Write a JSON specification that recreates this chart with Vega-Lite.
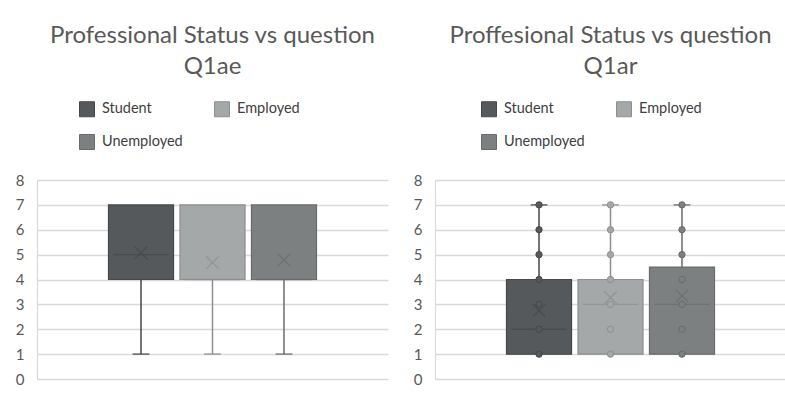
{
  "$schema": "https://vega.github.io/schema/vega-lite/v6.json",
  "background": "white",
  "padding": {"left": 15, "top": 24, "right": 0, "bottom": 0},
  "bounds": "flush",
  "spacing": 47,
  "config": {
    "font": "Lato",
    "view": {"stroke": null},
    "axis": {
      "domainColor": "#d9d9d9",
      "domainWidth": 1.2,
      "ticks": false,
      "gridColor": "#d9d9d9",
      "gridWidth": 1.3,
      "labelFont": "Lato",
      "labelFontSize": 15,
      "labelColor": "#595959",
      "labelPadding": 13,
      "title": null
    },
    "title": {
      "font": "Lato",
      "fontSize": 24,
      "fontWeight": "normal",
      "color": "#595959",
      "lineHeight": 31,
      "offset": 22
    },
    "legend": {
      "orient": "none",
      "direction": "horizontal",
      "title": null,
      "columns": 2,
      "padding": 0,
      "symbolType": "square",
      "symbolSize": 225,
      "symbolStrokeWidth": 1,
      "symbolOpacity": 1,
      "labelFont": "Lato",
      "labelFontSize": 14.5,
      "labelColor": "#404040",
      "labelOffset": 7,
      "columnPadding": 29,
      "rowPadding": 13
    }
  },
  "resolve": {
    "scale": {"fill": "independent", "stroke": "independent", "x": "independent", "y": "independent"},
    "legend": {"fill": "independent", "stroke": "independent"}
  },
  "hconcat": [
    {
      "width": 351,
      "height": 199,
      "title": {"text": ["Professional Status vs question", "Q1ae"]},
      "data": {"values": [
        {"status": "Student", "min": 1, "q1": 4, "median": 5, "q3": 7, "max": 7, "mean": 5.07},
        {"status": "Employed", "min": 1, "q1": 4, "median": 4, "q3": 7, "max": 7, "mean": 4.68},
        {"status": "Unemployed", "min": 1, "q1": 4, "median": 4, "q3": 7, "max": 7, "mean": 4.79}
      ]},
      "encoding": {
        "x": {"field": "status", "type": "nominal", "scale": {"domain": ["Student", "Employed", "Unemployed"], "paddingInner": 0.09, "paddingOuter": 1.5}, "axis": null}
      },
      "layer": [
        {
          "mark": {"type": "rule", "strokeWidth": 1.5},
          "encoding": {
            "y": {"field": "min", "type": "quantitative", "scale": {"domain": [0, 8]}, "axis": {"values": [0, 1, 2, 3, 4, 5, 6, 7, 8]}},
            "y2": {"field": "max"},
            "stroke": {"field": "status", "type": "nominal", "scale": {"domain": ["Student", "Employed", "Unemployed"], "range": ["#45484a", "#8c8f90", "#686b6c"]}}
          }
        },
        {
          "mark": {"type": "tick", "size": 15, "thickness": 0.01, "filled": false, "strokeWidth": 1.8},
          "encoding": {
            "y": {"field": "min", "type": "quantitative", "axis": {"values": [0, 1, 2, 3, 4, 5, 6, 7, 8]}},
            "stroke": {"field": "status", "type": "nominal"}
          }
        },
        {
          "mark": {"type": "bar", "strokeWidth": 1.2},
          "encoding": {
            "y": {"field": "q1", "type": "quantitative", "axis": {"values": [0, 1, 2, 3, 4, 5, 6, 7, 8]}},
            "y2": {"field": "q3"},
            "fill": {"field": "status", "type": "nominal", "scale": {"domain": ["Student", "Employed", "Unemployed"], "range": ["#55595b", "#a5a8a9", "#7d8081"]}, "legend": {"orient": "none", "legendX": 42, "legendY": -79}},
            "stroke": {"field": "status", "type": "nominal"}
          }
        },
        {
          "mark": {"type": "tick", "size": 54, "thickness": 0.01, "filled": false, "strokeWidth": 1.3},
          "encoding": {
            "y": {"field": "median", "type": "quantitative", "axis": {"values": [0, 1, 2, 3, 4, 5, 6, 7, 8]}},
            "stroke": {"field": "status", "type": "nominal"}
          }
        },
        {
          "mark": {"type": "point", "shape": "M-1,-1L1,1M-1,1L1,-1", "size": 160, "strokeWidth": 1.3, "filled": false},
          "encoding": {
            "y": {"field": "mean", "type": "quantitative", "axis": {"values": [0, 1, 2, 3, 4, 5, 6, 7, 8]}},
            "stroke": {"field": "status", "type": "nominal"}
          }
        }
      ]
    },
    {
      "width": 351,
      "height": 199,
      "title": {"text": ["Proffesional Status vs question", "Q1ar"]},
      "encoding": {
        "x": {"field": "status", "type": "nominal", "scale": {"domain": ["Student", "Employed", "Unemployed"], "paddingInner": 0.09, "paddingOuter": 1.5}, "axis": null}
      },
      "layer": [
        {
          "data": {"name": "box2", "values": [
            {"status": "Student", "min": 1, "q1": 1, "median": 2, "q3": 4, "max": 7, "mean": 2.76},
            {"status": "Employed", "min": 1, "q1": 1, "median": 3, "q3": 4, "max": 7, "mean": 3.27},
            {"status": "Unemployed", "min": 1, "q1": 1, "median": 3, "q3": 4.5, "max": 7, "mean": 3.34}
          ]},
          "mark": {"type": "rule", "strokeWidth": 1.5},
          "encoding": {
            "y": {"field": "min", "type": "quantitative", "scale": {"domain": [0, 8]}, "axis": {"values": [0, 1, 2, 3, 4, 5, 6, 7, 8]}},
            "y2": {"field": "max"},
            "stroke": {"field": "status", "type": "nominal", "scale": {"domain": ["Student", "Employed", "Unemployed"], "range": ["#45484a", "#8c8f90", "#686b6c"]}}
          }
        },
        {
          "data": {"name": "box2"},
          "mark": {"type": "tick", "size": 15, "thickness": 0.01, "filled": false, "strokeWidth": 1.8},
          "encoding": {
            "y": {"field": "max", "type": "quantitative", "axis": {"values": [0, 1, 2, 3, 4, 5, 6, 7, 8]}},
            "stroke": {"field": "status", "type": "nominal"}
          }
        },
        {
          "data": {"name": "box2"},
          "mark": {"type": "bar", "strokeWidth": 1.2},
          "encoding": {
            "y": {"field": "q1", "type": "quantitative", "axis": {"values": [0, 1, 2, 3, 4, 5, 6, 7, 8]}},
            "y2": {"field": "q3"},
            "fill": {"field": "status", "type": "nominal", "scale": {"domain": ["Student", "Employed", "Unemployed"], "range": ["#55595b", "#a5a8a9", "#7d8081"]}, "legend": {"orient": "none", "legendX": 46, "legendY": -79}},
            "stroke": {"field": "status", "type": "nominal"}
          }
        },
        {
          "data": {"name": "box2"},
          "mark": {"type": "tick", "size": 54, "thickness": 0.01, "filled": false, "strokeWidth": 1.3},
          "encoding": {
            "y": {"field": "median", "type": "quantitative", "axis": {"values": [0, 1, 2, 3, 4, 5, 6, 7, 8]}},
            "stroke": {"field": "status", "type": "nominal"}
          }
        },
        {
          "data": {"values": [
            {"status": "Student", "value": 1}, {"status": "Student", "value": 2}, {"status": "Student", "value": 3}, {"status": "Student", "value": 4}, {"status": "Student", "value": 5}, {"status": "Student", "value": 6}, {"status": "Student", "value": 7},
            {"status": "Employed", "value": 1}, {"status": "Employed", "value": 2}, {"status": "Employed", "value": 3}, {"status": "Employed", "value": 4}, {"status": "Employed", "value": 5}, {"status": "Employed", "value": 6}, {"status": "Employed", "value": 7},
            {"status": "Unemployed", "value": 1}, {"status": "Unemployed", "value": 2}, {"status": "Unemployed", "value": 3}, {"status": "Unemployed", "value": 4}, {"status": "Unemployed", "value": 5}, {"status": "Unemployed", "value": 6}, {"status": "Unemployed", "value": 7}
          ]},
          "mark": {"type": "point", "shape": "circle", "size": 40, "strokeWidth": 1, "filled": true, "opacity": 1},
          "encoding": {
            "y": {"field": "value", "type": "quantitative", "axis": {"values": [0, 1, 2, 3, 4, 5, 6, 7, 8]}},
            "fill": {"field": "status", "type": "nominal"},
            "stroke": {"field": "status", "type": "nominal"}
          }
        },
        {
          "data": {"name": "box2"},
          "mark": {"type": "point", "shape": "M-1,-1L1,1M-1,1L1,-1", "size": 160, "strokeWidth": 1.3, "filled": false},
          "encoding": {
            "y": {"field": "mean", "type": "quantitative", "axis": {"values": [0, 1, 2, 3, 4, 5, 6, 7, 8]}},
            "stroke": {"field": "status", "type": "nominal"}
          }
        }
      ]
    }
  ]
}
